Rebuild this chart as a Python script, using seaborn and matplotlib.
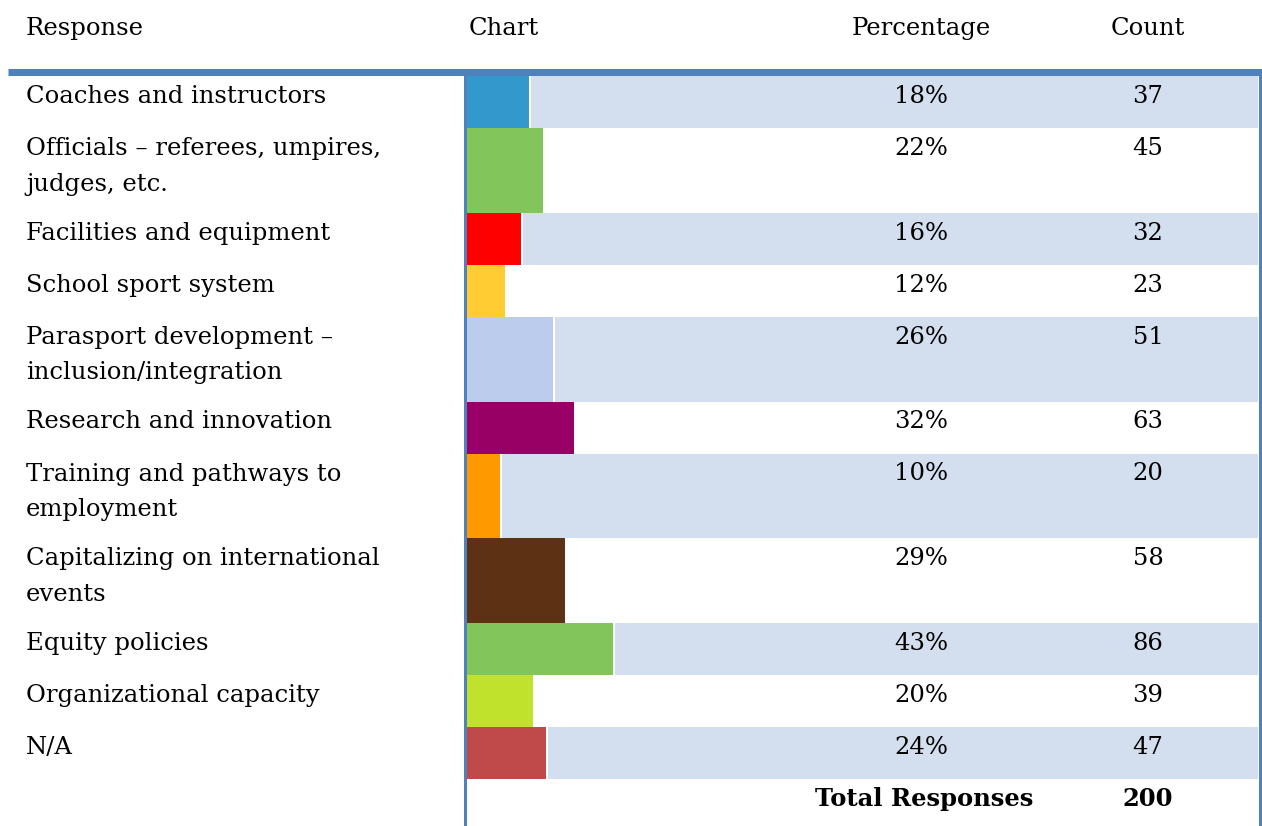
import matplotlib
matplotlib.use("Agg")
import matplotlib.pyplot as plt
import seaborn as sns
import pandas as pd
import numpy as np

# ---------------- data ----------------
responses = [
    "Coaches and instructors",
    "Officials – referees, umpires,\njudges, etc.",
    "Facilities and equipment",
    "School sport system",
    "Parasport development –\ninclusion/integration",
    "Research and innovation",
    "Training and pathways to\nemployment",
    "Capitalizing on international\nevents",
    "Equity policies",
    "Organizational capacity",
    "N/A",
]
percent_labels = ["18%", "22%", "16%", "12%", "26%", "32%", "10%", "29%", "43%", "20%", "24%"]
counts = [37, 45, 32, 23, 51, 63, 20, 58, 86, 39, 47]
total_responses = 200
headers = ["Response", "Chart", "Percentage", "Count"]
bar_colors = ["#3399CC", "#82C55B", "#FF0000", "#FFCC33", "#BCCCEC", "#990066",
              "#FF9900", "#5C3114", "#82C55B", "#C0E22C", "#C0494A"]

# ---------------- style / layout ----------------
sns.set_theme(style="white")
FONT = "DejaVu Serif"
plt.rcParams["font.family"] = [FONT, "DejaVu Sans"]
plt.rcParams["text.color"] = "black"
FS = 17.5
W, H = 1262, 826
TOP = 76
SINGLE, EXTRA = 52.0, 32.75
LINE_GAP = 35.7
PX_PER_PCT = 3.42
CHART_L, CHART_R = 466, 1258
SHADE = "#D3DFEE"
BLUE = "#4F81BD"

n_lines = [r.count("\n") + 1 for r in responses]
heights = [SINGLE + EXTRA * (n - 1) for n in n_lines]
tops = list(np.cumsum([TOP] + heights[:-1]))
centers = [t + h / 2 for t, h in zip(tops, heights)]
bottom_rows = tops[-1] + heights[-1]

df = pd.DataFrame({
    "Response": responses,
    "pct": [c / total_responses * 100 for c in counts],
    "ycenter": centers,
})

fig = plt.figure(figsize=(W / 100, H / 100), dpi=100)

# chart (bars) axes
ax = fig.add_axes([CHART_L / W, 0, (CHART_R - CHART_L) / W, 1])
xmax = (CHART_R - CHART_L) / PX_PER_PCT
gap = 2 / PX_PER_PCT

# shading of alternate rows (right of each bar)
for i, (p, c, h) in enumerate(zip(df["pct"], centers, heights)):
    if i % 2 == 0:
        ax.barh(c, xmax - p - gap, left=p + gap, height=h, color=SHADE,
                linewidth=0, zorder=1)
n_shade = len(ax.patches)

sns.barplot(data=df, x="pct", y="ycenter", hue="Response", palette=bar_colors,
            orient="h", native_scale=True, legend=False, ax=ax,
            linewidth=0, saturation=1)
bar_patches = ax.patches[n_shade:]
for p, c, h in zip(bar_patches, centers, heights):
    p.set_y(c - h / 2)
    p.set_height(h)
    p.set_zorder(2)

ax.set_xlim(0, xmax)
ax.set_ylim(H, 0)
ax.axis("off")

# overlay axes for table lines and text (drawn on top)
bg = fig.add_axes([0, 0, 1, 1])
bg.set_xlim(0, W)
bg.set_ylim(H, 0)
bg.axis("off")
bg.patch.set_alpha(0)

lw_px = 72 / 100
bg.plot([8, W], [72, 72], color=BLUE, lw=7 * lw_px, solid_capstyle="butt", zorder=5)
bg.plot([464.5, 464.5], [72, H], color=BLUE, lw=3 * lw_px, solid_capstyle="butt", zorder=5)
bg.plot([1259.5, 1259.5], [72, H], color=BLUE, lw=3 * lw_px, solid_capstyle="butt", zorder=5)

# headers
HY = 35
bg.text(26, HY, headers[0], fontsize=FS, ha="left", va="baseline")
bg.text(469, HY, headers[1], fontsize=FS, ha="left", va="baseline")
bg.text(921, HY, headers[2], fontsize=FS, ha="center", va="baseline")
bg.text(1148, HY, headers[3], fontsize=FS, ha="center", va="baseline")

# rows
for lab, pl, cnt, t in zip(responses, percent_labels, counts, tops):
    for k, line in enumerate(lab.split("\n")):
        bg.text(26, t + 27 + k * LINE_GAP, line, fontsize=FS, ha="left", va="baseline")
    bg.text(921, t + 27, pl, fontsize=FS, ha="center", va="baseline", zorder=6)
    bg.text(1148, t + 27, str(cnt), fontsize=FS, ha="center", va="baseline", zorder=6)

# total row
bg.text(924, bottom_rows + 27, "Total Responses", fontsize=FS, fontweight="bold",
        ha="center", va="baseline")
bg.text(1148, bottom_rows + 27, str(total_responses), fontsize=FS, fontweight="bold",
        ha="center", va="baseline")

fig.savefig("out.png", dpi=100)
